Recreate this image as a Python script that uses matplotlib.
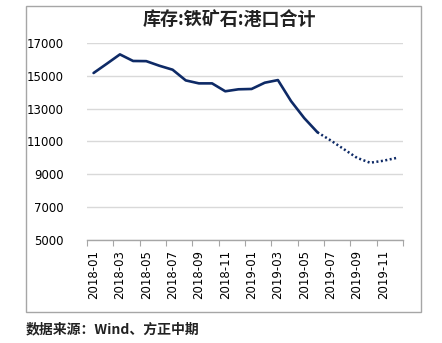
import matplotlib
matplotlib.use("Agg")
import matplotlib.pyplot as plt
from matplotlib.patches import Rectangle

plt.rcParams['font.family'] = ['Noto Sans CJK SC', 'DejaVu Sans']

months = ['2018-01', '2018-02', '2018-03', '2018-04', '2018-05', '2018-06',
          '2018-07', '2018-08', '2018-09', '2018-10', '2018-11', '2018-12',
          '2019-01', '2019-02', '2019-03', '2019-04', '2019-05', '2019-06',
          '2019-07', '2019-08', '2019-09', '2019-10', '2019-11', '2019-12']
# actual inventory (through 2019-06)
actual = [15160, 15720, 16290, 15890, 15880, 15600, 15360, 14710, 14530, 14530,
          14050, 14170, 14190, 14570, 14730, 13450, 12420, 11560]
# projected inventory (2019-06 onward)
forecast = [11560, 11070, 10540, 10010, 9710, 9830, 10000]
y_ticks = [5000, 7000, 9000, 11000, 13000, 15000, 17000]

title = '库存:铁矿石:港口合计'
source = '数据来源：Wind、方正中期'
line_color = '#0E2A66'

fig = plt.figure(figsize=(4.42, 3.43), dpi=100)
fig.patch.set_facecolor('white')

# outer chart frame
fig.add_artist(Rectangle((25.5 / 442, 1 - 312 / 343), (421 - 25.5) / 442, (312 - 6) / 343,
                         transform=fig.transFigure, fill=False, edgecolor='#A6A6A6', lw=1.0))

ax = fig.add_axes([87 / 442, 1 - 240.3 / 343, (403 - 87) / 442, (240.3 - 42.7) / 343])

x_act = list(range(len(actual)))
x_fc = list(range(len(actual) - 1, len(actual) - 1 + len(forecast)))
ax.plot(x_act, actual, color=line_color, lw=1.9, solid_capstyle='round', zorder=3)
ax.plot(x_fc, forecast, color=line_color, lw=1.8, linestyle=(0, (0.8, 1.0)),
        dash_capstyle='butt', zorder=3)

ax.set_xlim(-0.5, len(months) - 0.5)
ax.set_ylim(5000, 17000)
ax.set_yticks(y_ticks)
ax.set_yticklabels([str(v) for v in y_ticks], fontsize=8.5, family='DejaVu Sans')
ax.tick_params(axis='y', length=0, pad=17)
ax.yaxis.grid(True, color='#D9D9D9', lw=1.0)
ax.set_axisbelow(True)

# category boundaries every two months get tick marks, labels sit in between
ax.set_xticks([i - 0.5 for i in range(0, len(months) + 1, 2)])
ax.set_xticklabels([])
ax.tick_params(axis='x', which='major', length=4, color='#A6A6A6', direction='out')
ax.set_xticks(list(range(0, len(months), 2)), minor=True)
ax.set_xticklabels(months[::2], minor=True, rotation=90, fontsize=8.5, family='DejaVu Sans')
ax.tick_params(axis='x', which='minor', length=0, pad=7)

for s in ['top', 'right', 'left']:
    ax.spines[s].set_visible(False)
ax.spines['bottom'].set_color('#A6A6A6')
ax.spines['bottom'].set_linewidth(1.0)

fig.text(229 / 442, 1 - 19 / 343, title, ha='center', va='center', fontsize=13,
         fontweight='bold', color='#222222')
fig.text(26 / 442, 1 - 329 / 343, source, ha='left', va='center', fontsize=10,
         fontweight='bold', color='#222222')

fig.savefig('out.png', dpi=100, facecolor='white')
